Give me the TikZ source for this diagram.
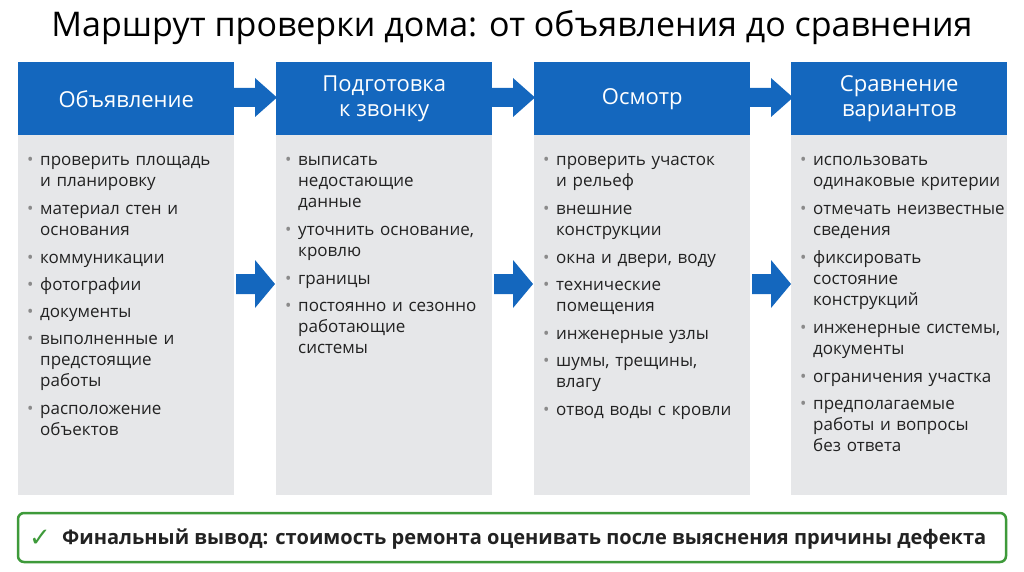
\documentclass[tikz,border=0pt]{standalone}
\usepackage{fontspec}
\setmainfont{Open Sans}
\newfontfamily\dej{DejaVu Sans}
\definecolor{hb}{HTML}{1467BE}
\definecolor{gb}{HTML}{E6E7E9}
\definecolor{bul}{HTML}{8A8A8A}
\definecolor{tx}{HTML}{222222}
\definecolor{gr}{HTML}{3E9A3A}
\newcommand\bi[1]{\par\vspace{6pt}\noindent\makebox[13pt][l]{\textcolor{bul}{\textbullet}}\begin{tabular}[t]{@{}l@{}}#1\end{tabular}\par}
\begin{document}
\begin{tikzpicture}[x=1pt,y=-1pt,
  head/.style={fill=hb,minimum width=216pt,minimum height=73pt,inner sep=0pt,text=white,font=\fontsize{22}{25}\selectfont,align=center,anchor=north west},
  body/.style={fill=gb,minimum width=216pt,minimum height=360pt,inner sep=0pt,anchor=north west},
  txt/.style={text width=200pt,anchor=north west,inner sep=0pt,text=tx,font=\fontsize{17}{21}\selectfont\renewcommand\arraystretch{1},align=left},
  arr/.style={fill=hb}]
\useasboundingbox (0,0) rectangle (1024,572);
\node[text=black,font=\fontsize{34}{38}\selectfont] (title) at (512,28) {Маршрут проверки дома: от объявления до сравнения};
\foreach \i/\x/\t in {1/18/Объявление,2/276/{Подготовка\\к звонку},3/534/Осмотр,4/791/{Сравнение\\вариантов}}{
  \node[body] (b\i) at (\x,135) {};
  \node[head] (h\i) at (\x,62) {\t};
}
\foreach \i/\x in {1/234,2/492,3/750}{
  \fill[arr] (\x,88) -- (\x+21,88) -- (\x+21,78) -- (\x+43,97.5) -- (\x+21,117) -- (\x+21,107) -- (\x,107) -- cycle;
  \fill[arr] (\x+2,274) -- (\x+21,274) -- (\x+21,260) -- (\x+41,284) -- (\x+21,308) -- (\x+21,294) -- (\x+2,294) -- cycle;
}
\node[txt] (t1) at (27,138) {\bi{проверить площадь\\и планировку}\bi{материал стен и\\основания}\bi{коммуникации}\bi{фотографии}\bi{документы}\bi{выполненные и\\предстоящие\\работы}\bi{расположение\\объектов}};
\node[txt] (t2) at (285,138) {\bi{выписать\\недостающие\\данные}\bi{уточнить основание,\\кровлю}\bi{границы}\bi{постоянно и сезонно\\работающие\\системы}};
\node[txt] (t3) at (543,138) {\bi{проверить участок\\и рельеф}\bi{внешние\\конструкции}\bi{окна и двери, воду}\bi{технические\\помещения}\bi{инженерные узлы}\bi{шумы, трещины,\\влагу}\bi{отвод воды с кровли}};
\node[txt] (t4) at (800,138) {\bi{использовать\\одинаковые критерии}\bi{отмечать неизвестные\\сведения}\bi{фиксировать\\состояние\\конструкций}\bi{инженерные системы,\\документы}\bi{ограничения участка}\bi{предполагаемые\\работы и вопросы\\без ответа}};
\draw[gr,line width=2.5pt,rounded corners=6pt,fill=white] (18,513) rectangle (1006,562);
\node[text=gr,font=\dej\fontsize{26}{28}\selectfont] (chk) at (40,538) {✓};
\node[anchor=west,inner sep=0pt,text=tx] (fin) at (62,539) {\resizebox{924pt}{!}{\bfseries Финальный вывод: стоимость ремонта оценивать после выяснения причины дефекта}};
\end{tikzpicture}
\end{document}
